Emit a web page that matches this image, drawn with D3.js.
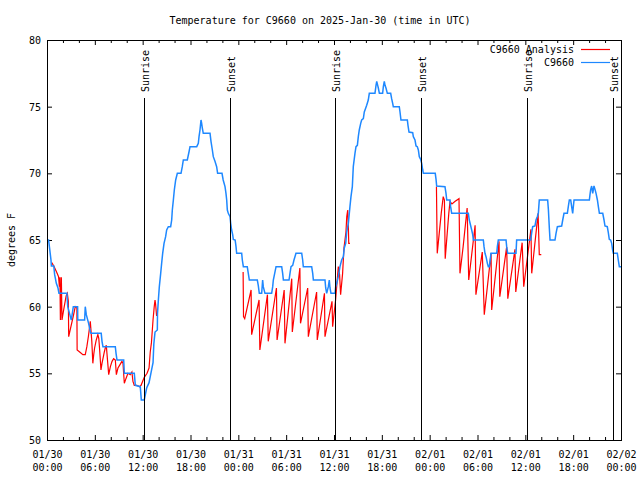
<!DOCTYPE html>
<html><head><meta charset="utf-8">
<script src="https://cdn.jsdelivr.net/npm/d3@7"></script>
<style>body{margin:0;background:#fff}</style>
</head><body>
<svg id="c" width="640" height="480"></svg>
<script>
// ---- data (hours after 2025-01-30 00:00 UTC, degrees F) ----
const titleText = "Temperature for C9660 on 2025-Jan-30 (time in UTC)";
const yLabel = "degrees F";
const yTickValues = [50, 55, 60, 65, 70, 75, 80];
const seriesNames = ["C9660 Analysis", "C9660"];
const sunEventNames = ["Sunrise", "Sunset", "Sunrise", "Sunset", "Sunrise", "Sunset"];
const sunEventHours = [12.2, 22.9, 36.15, 46.9, 60.2, 71.03];

const observed = [
[0,65],[0.2,65],[0.5,63.5],[0.55,63.05],[0.85,63.05],[0.96,62.4],[1.17,61.75],[1.38,61.4],[1.5,61],[2.5,61],[2.6,60],[2.93,59.25],[3.05,59],[3.3,60],[3.84,60],[3.86,59],[4.72,59],[4.8,60],[4.93,59.4],[5.22,58.75],[5.44,58.1],[5.52,58],[6.8,58],[6.9,57.4],[7.02,57],[8.57,57],[8.66,56.5],[8.78,56],[9.62,56],[9.7,55],[10.95,55],[11.08,54.1],[11.7,54],[11.83,53],[12.2,53],[12.5,53.9],[12.8,54.3],[13.1,55.2],[13.3,55.8],[13.4,57.2],[13.55,58.1],[13.84,58.25],[13.86,59.5],[13.97,60.5],[14.09,61.5],[14.26,62.5],[14.38,63.25],[14.51,64],[14.68,64.75],[14.88,65.25],[15.01,65.75],[15.22,66],[15.51,66],[15.64,66.5],[15.72,67.25],[15.85,68],[15.97,68.75],[16.14,69.5],[16.35,70],[16.81,70],[16.97,70.5],[17.1,71],[17.6,71],[17.81,71.6],[17.94,72],[18.78,72],[18.98,72.25],[19.07,72.75],[19.19,73.25],[19.32,74],[19.4,73.75],[19.48,73.4],[19.6,73],[20.45,73],[20.57,72.4],[20.74,71.75],[20.86,71.25],[21.07,70.9],[21.28,70.5],[21.4,70],[21.95,70],[22.1,69.5],[22.33,69],[22.45,68.5],[22.54,68],[22.62,67.25],[22.74,67],[22.96,66.75],[23.04,66.25],[23.16,65.75],[23.29,65.4],[23.37,65.05],[23.6,65],[23.71,64.5],[23.79,64],[24.42,64],[24.5,63.5],[24.63,63],[25.12,63],[25.25,62.5],[25.38,62],[26.38,62],[26.5,61.6],[26.63,61],[26.93,61],[27.05,62],[27.13,61.5],[27.34,61],[28.18,61],[28.31,61.5],[28.39,62],[28.73,63],[29.44,63],[29.56,62.5],[29.65,62],[30.36,62],[30.48,62.5],[30.61,63],[30.82,63.1],[30.98,63.5],[31.23,64],[31.95,64],[32.07,63.5],[32.15,63],[33.2,63],[33.33,62.5],[33.41,62],[34.87,62],[34.96,61.4],[35.08,61],[35.29,61.5],[35.41,62],[35.5,61.4],[35.62,61],[36.13,61],[36.21,61.5],[36.34,61.75],[36.54,62.25],[36.75,63],[36.96,63.5],[37.17,63.75],[37.29,64.4],[37.47,64.75],[37.59,65.6],[37.8,66.25],[37.92,67],[38.0,67.5],[38.13,68.25],[38.3,69],[38.42,70.5],[38.63,71.5],[38.76,72],[38.93,72.1],[39.05,72.75],[39.17,73.25],[39.35,73.75],[39.47,74],[39.68,74.1],[39.8,74.6],[39.98,74.9],[40.1,75.1],[40.3,75.5],[40.43,76],[41.14,76],[41.27,76.6],[41.36,76.9],[41.48,76.6],[41.56,76.4],[41.69,76],[42.1,76],[42.19,76.5],[42.31,76.9],[42.4,76.6],[42.52,76.4],[42.69,76],[43.11,76],[43.23,75.6],[43.36,75.25],[43.44,75],[44.19,75],[44.28,74.6],[44.4,74],[45.2,74],[45.28,73.6],[45.41,73.1],[45.87,73.05],[45.95,72.75],[46.16,72.5],[46.29,72.05],[46.45,72],[46.58,71.75],[46.7,71.25],[46.87,71.05],[47.0,70.75],[47.13,70.25],[47.21,70],[48.7,70],[48.8,69.55],[48.88,69.05],[49.92,69],[50.05,68.5],[50.14,68],[50.55,68],[50.63,67.5],[50.76,67],[52.85,67],[52.97,66.5],[53.15,66.05],[53.27,65.75],[53.4,65.4],[53.48,65],[54.73,65],[54.82,64.5],[54.94,64],[55.07,63.75],[55.24,63.25],[55.36,63],[55.49,63],[55.57,63.4],[55.69,64],[56.41,64],[56.49,64.5],[56.61,65],[57.58,65],[57.66,64.5],[57.79,64],[58.83,64],[58.91,65],[60.67,65],[60.8,65.55],[60.92,66],[61.21,66.05],[61.34,66.5],[61.5,66.75],[61.63,67],[61.75,68],[62.8,68],[62.89,67.3],[63.01,65.9],[63.1,65],[63.72,65],[63.85,65.5],[64.02,66],[64.56,66.05],[64.69,66.5],[64.85,67],[65.27,67],[65.39,67.5],[65.52,68],[65.69,68],[65.81,67.5],[65.94,67],[66.02,67.5],[66.11,68],[68.03,68],[68.11,68.4],[68.2,68.8],[68.32,69.05],[68.45,68.5],[68.61,69.05],[68.74,68.8],[68.87,68.5],[69.04,68],[69.16,67.5],[69.29,67],[69.71,67],[69.87,66.5],[69.99,66.05],[70.28,66],[70.41,65.55],[70.53,65.05],[70.7,65],[70.83,64.75],[70.95,64.25],[71.04,64],[71.54,64],[71.66,63.5],[71.79,63],[72,63]
];

const analysisDay1 = [
[0.6,63.3],[0.9,63.0],[1.2,62.6],[1.45,62.25],[1.55,61.5],[1.62,62.2],[1.68,59.0],[1.8,62.2],[1.88,59.0],[2.1,59.8],[2.4,60.8],[2.55,61.0],[2.68,60.4],[2.72,57.75],[3.0,58.5],[3.3,59.3],[3.55,60.0],[3.75,59.9],[3.78,56.75],[4.1,56.6],[4.5,56.4],[4.8,56.4],[5.0,57.0],[5.2,57.8],[5.43,58.9],[5.62,57.4],[5.75,55.75],[5.86,56.4],[5.97,56.9],[6.18,57.5],[6.38,57.9],[6.5,57.6],[6.6,56.8],[6.77,55.25],[6.9,55.75],[7.02,56.1],[7.19,56.6],[7.31,56.9],[7.44,57.1],[7.52,56.5],[7.74,54.9],[7.95,55.5],[8.16,55.9],[8.36,56.1],[8.57,56.0],[8.7,54.9],[8.9,55.4],[9.1,55.6],[9.4,55.9],[9.53,55.75],[9.7,54.25],[9.9,54.6],[10.15,55.0],[10.44,54.9],[10.65,55.1],[10.78,54.4],[10.95,54.1],[11.28,54.1],[11.6,54.0],[11.8,54.1],[12.0,54.4],[12.2,54.7],[12.55,55.0],[12.8,55.4],[12.95,56.6],[13.1,57.3],[13.3,59.0],[13.45,60.0],[13.55,60.5],[13.62,60.2],[13.75,59.3]
];
const analysisDay2 = [
[24.6,62.6],[24.65,59.25],[24.8,59.1],[25.6,61.25],[25.67,57.9],[26.6,60.5],[26.7,56.75],[27.65,60.9],[27.75,57.4],[28.78,61.4],[28.86,57.5],[29.75,61.25],[29.85,57.25],[30.7,62.1],[30.77,58.1],[31.72,62.9],[31.8,58.75],[32.7,61.4],[32.78,57.75],[33.82,61.1],[33.9,57.5],[34.8,61.0],[34.87,57.75],[35.75,60.4],[35.83,58.5],[36.2,60.5],[36.54,63.0],[36.7,62.4],[36.83,60.9],[37.08,62.5],[37.25,64.4],[37.5,65.6],[37.6,66.75],[37.72,67.25],[37.8,66.0],[37.85,64.75],[38.0,64.75]
];
const analysisDay3 = [
[48.85,69.0],[48.95,64.0],[49.2,65.5],[49.45,67.0],[49.7,68.25],[49.85,68.0],[49.95,63.6],[50.2,65.5],[50.4,67.0],[50.55,67.9],[50.8,67.7],[51.2,67.9],[51.68,68.1],[51.8,62.5],[52.2,64.5],[52.7,67.4],[52.9,62.0],[53.7,66.1],[53.8,60.9],[54.6,64.1],[54.85,59.4],[55.7,64.0],[55.78,59.75],[56.7,64.9],[56.8,60.75],[57.66,64.5],[57.8,60.6],[58.7,64.3],[58.8,61.1],[59.6,64.8],[59.8,61.5],[60.7,65.8],[60.8,62.5],[61.6,67.0],[61.75,63.9],[62.0,63.9]
];

// ---- drawing ----
const FONT = "'DejaVu Sans Mono', 'Liberation Mono', monospace";
const RED = "#ff0000", BLUE = "#1e88ff";
const svg = d3.select("#c").attr("font-family", FONT).attr("font-size", 10);
const M = {l: 47, r: 621, t: 40, b: 440};
const t0 = Date.UTC(2025, 0, 30);
const toDate = h => new Date(t0 + h * 3600e3);
const x = d3.scaleUtc().domain([toDate(0), toDate(72)]).range([M.l, M.r]);
const y = d3.scaleLinear().domain([50, 80]).range([M.b, M.t]);

const majorTicks = d3.utcHour.every(6).range(toDate(0), toDate(72.01));
const minorTicks = d3.utcHour.every(2).range(toDate(0), toDate(72.01)).filter(d => d.getUTCHours() % 6 !== 0);

function styleAxis(g) {
  g.select(".domain").remove();
  g.selectAll("line").attr("stroke", "#000");
  g.attr("font-family", FONT).attr("font-size", 10);
}

// bottom
svg.append("g").attr("transform", `translate(0,${M.b})`)
  .call(d3.axisBottom(x).tickValues(minorTicks).tickSize(-3).tickFormat(""))
  .call(styleAxis);
const bx = svg.append("g").attr("transform", `translate(0,${M.b})`)
  .call(d3.axisBottom(x).tickValues(majorTicks).tickSize(-5).tickFormat(""))
  .call(styleAxis);
const fmtD = d3.utcFormat("%m/%d"), fmtT = d3.utcFormat("%H:%M");
bx.selectAll(".tick").append("text").attr("fill", "#000").attr("text-anchor", "middle")
  .attr("y", 17.5).text(d => fmtD(d));
bx.selectAll(".tick").append("text").attr("fill", "#000").attr("text-anchor", "middle")
  .attr("y", 30.5).text(d => fmtT(d));
// top
svg.append("g").attr("transform", `translate(0,${M.t})`)
  .call(d3.axisTop(x).tickValues(minorTicks).tickSize(-3).tickFormat("")).call(styleAxis);
svg.append("g").attr("transform", `translate(0,${M.t})`)
  .call(d3.axisTop(x).tickValues(majorTicks).tickSize(-5).tickFormat("")).call(styleAxis);
// left
const ly = svg.append("g").attr("transform", `translate(${M.l},0)`)
  .call(d3.axisLeft(y).tickValues(yTickValues).tickSize(-5).tickPadding(6).tickFormat(d3.format("d")))
  .call(styleAxis);
ly.selectAll("text").attr("fill", "#000").attr("dy", "0.35em");
// right
svg.append("g").attr("transform", `translate(${M.r},0)`)
  .call(d3.axisRight(y).tickValues(yTickValues).tickSize(-5).tickFormat("")).call(styleAxis);

// series
const line = d3.line().x(d => x(toDate(d[0]))).y(d => y(d[1]));
const plot = svg.append("g");
[analysisDay1, analysisDay2, analysisDay3].forEach(seg => {
  plot.append("path").datum(seg).attr("d", line).attr("fill", "none")
    .attr("stroke", RED).attr("stroke-width", 1.2).attr("stroke-linejoin", "miter");
});
plot.append("path").datum(observed).attr("d", line).attr("fill", "none")
  .attr("stroke", BLUE).attr("stroke-width", 1.5);

// sunrise / sunset lines
sunEventHours.forEach((h, i) => {
  const sx = Math.round(x(toDate(h))) + 0.5;
  svg.append("line").attr("x1", sx).attr("x2", sx).attr("y1", 98).attr("y2", M.b)
    .attr("stroke", "#000").attr("stroke-width", 1);
  svg.append("text").attr("transform", `translate(${sx + 1},92) rotate(-90)`)
    .attr("text-anchor", "start").attr("dy", "0.35em").attr("fill", "#000")
    .text(sunEventNames[i]);
});

// frame
svg.append("rect").attr("x", M.l + 0.5).attr("y", M.t + 0.5)
  .attr("width", M.r - M.l).attr("height", M.b - M.t)
  .attr("fill", "none").attr("stroke", "#000").attr("stroke-width", 1);

// title & y label
svg.append("text").attr("x", 320).attr("y", 23.5).attr("text-anchor", "middle").attr("fill", "#000").text(titleText);
svg.append("text").attr("transform", "translate(11,240) rotate(-90)").attr("text-anchor", "middle")
  .attr("dy", "0.35em").attr("fill", "#000").text(yLabel);

// legend
const legendColors = [RED, BLUE];
seriesNames.forEach((name, i) => {
  const ly0 = 49.5 + i * 13;
  svg.append("text").attr("x", 574).attr("y", ly0).attr("dy", "0.35em")
    .attr("text-anchor", "end").attr("fill", "#000").text(name);
  svg.append("line").attr("x1", 581).attr("x2", 610).attr("y1", ly0).attr("y2", ly0)
    .attr("stroke", legendColors[i]).attr("stroke-width", 1.2);
});
</script>
</body></html>
